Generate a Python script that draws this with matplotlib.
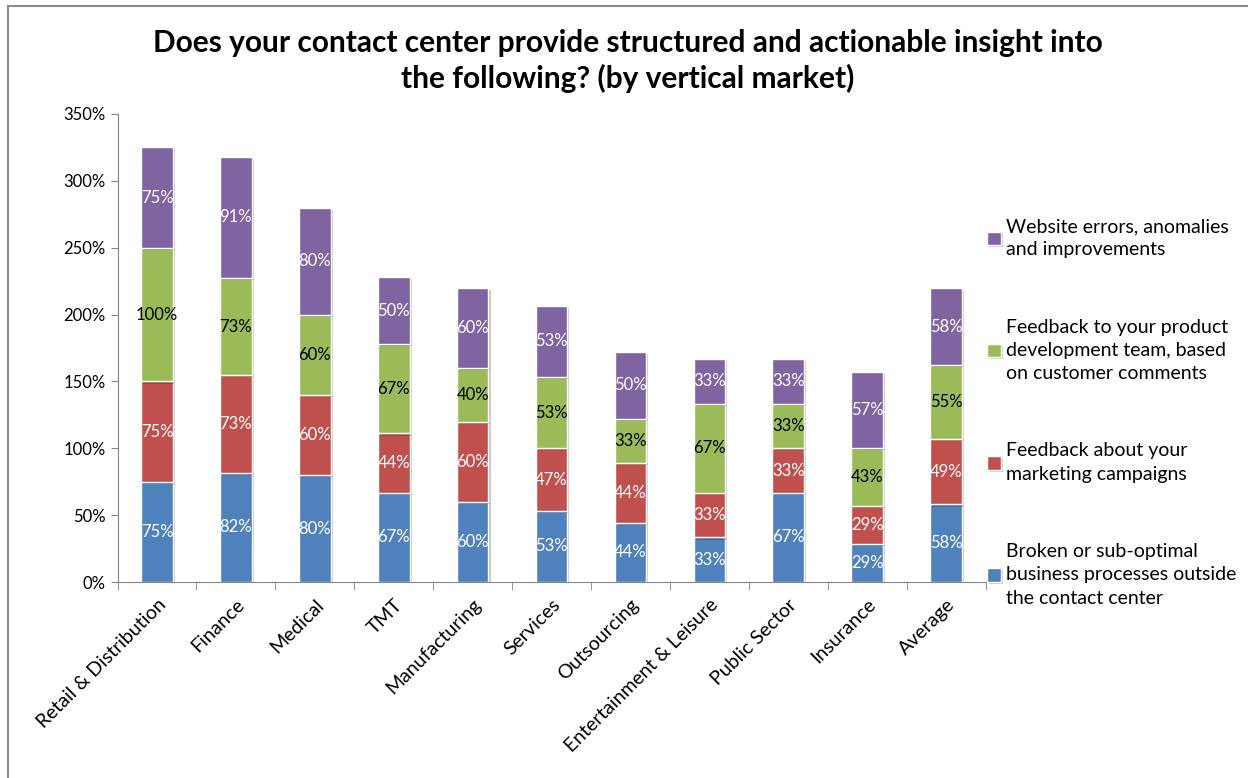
import numpy as np
import matplotlib
matplotlib.use("Agg")
import matplotlib.pyplot as plt
from matplotlib.patches import Rectangle
from matplotlib.ticker import FuncFormatter, FixedLocator
import matplotlib.patheffects as pe

plt.rcParams["font.family"] = ["Lato", "DejaVu Sans"]

categories = ["Retail & Distribution", "Finance", "Medical", "TMT", "Manufacturing",
              "Services", "Outsourcing", "Entertainment & Leisure", "Public Sector",
              "Insurance", "Average"]

broken = [75.0, 81.8, 80.0, 66.7, 60.0, 53.3, 44.4, 33.3, 66.7, 28.6, 58.0]
marketing = [75.0, 72.7, 60.0, 44.4, 60.0, 46.7, 44.4, 33.3, 33.3, 28.6, 49.0]
product = [100.0, 72.7, 60.0, 66.7, 40.0, 53.3, 33.3, 66.7, 33.3, 42.9, 55.0]
website = [75.0, 90.9, 80.0, 50.0, 60.0, 53.3, 50.0, 33.3, 33.3, 57.1, 58.0]

series = [
    ("Broken or sub-optimal\nbusiness processes outside\nthe contact center", broken, "#4F81BD", "white"),
    ("Feedback about your\nmarketing campaigns", marketing, "#C0504D", "white"),
    ("Feedback to your product\ndevelopment team, based\non customer comments", product, "#9BBB59", "black"),
    ("Website errors, anomalies\nand improvements", website, "#8064A2", "white"),
]

fig = plt.figure(figsize=(12.48, 7.78), dpi=100)
ax = fig.add_axes([0.0942, 0.2519, 0.6955, 0.6016])

# outer chart border
fig.patches.append(Rectangle((8 / 1248, -0.01), 1.02, 1 - 6 / 778 + 0.01,
                             transform=fig.transFigure, fill=False,
                             edgecolor="#8C8C8C", lw=1.5))

x = np.arange(len(categories))
bottom = np.zeros(len(categories))
handles = []
for label, vals, color, tcol in series:
    vals = np.array(vals)
    bars = ax.bar(x, vals, width=0.4, bottom=bottom, color=color,
                  edgecolor="white", linewidth=1.0, label=label,
                  path_effects=[pe.SimplePatchShadow(offset=(1.5, -1.5), alpha=0.25),
                                pe.Normal()])
    handles.append(bars)
    for xi, b, v in zip(x, bottom, vals):
        ax.text(xi, b + v / 2, f"{v:.0f}%", ha="center", va="center",
                color=tcol, fontsize=12)
    bottom += vals

ax.set_xlim(-0.5, len(categories) - 0.5)
ax.set_ylim(0, 350)
ax.set_yticks(np.arange(0, 351, 50))
ax.yaxis.set_major_formatter(FuncFormatter(lambda v, p: f"{v:.0f}%"))
ax.set_xticks(x)
ax.set_xticklabels(categories, rotation=45, ha="right", rotation_mode="anchor",
                   fontsize=14)
ax.xaxis.set_minor_locator(FixedLocator(np.arange(-0.5, len(categories), 1.0)))
ax.tick_params(axis="x", which="major", length=0, pad=10)
ax.tick_params(axis="x", which="minor", length=6, color="#868686")
ax.tick_params(axis="y", length=5, color="#868686", labelsize=12)
for s in ["top", "right"]:
    ax.spines[s].set_visible(False)
for s in ["left", "bottom"]:
    ax.spines[s].set_color("#868686")

fig.text(0.503, 0.922, "Does your contact center provide structured and actionable insight into\nthe following? (by vertical market)",
         ha="center", va="center", fontsize=21.5, fontweight="bold", linespacing=1.3)

leg = fig.legend(handles[::-1], [s[0] for s in series][::-1], loc="center left",
                 bbox_to_anchor=(0.783, 0.47), frameon=False, fontsize=14,
                 handlelength=0.7, handleheight=0.7, handletextpad=0.3,
                 labelspacing=3.1, borderpad=0)
for t in leg.get_texts():
    t.set_linespacing(1.45)

fig.savefig("out.png", dpi=100)
